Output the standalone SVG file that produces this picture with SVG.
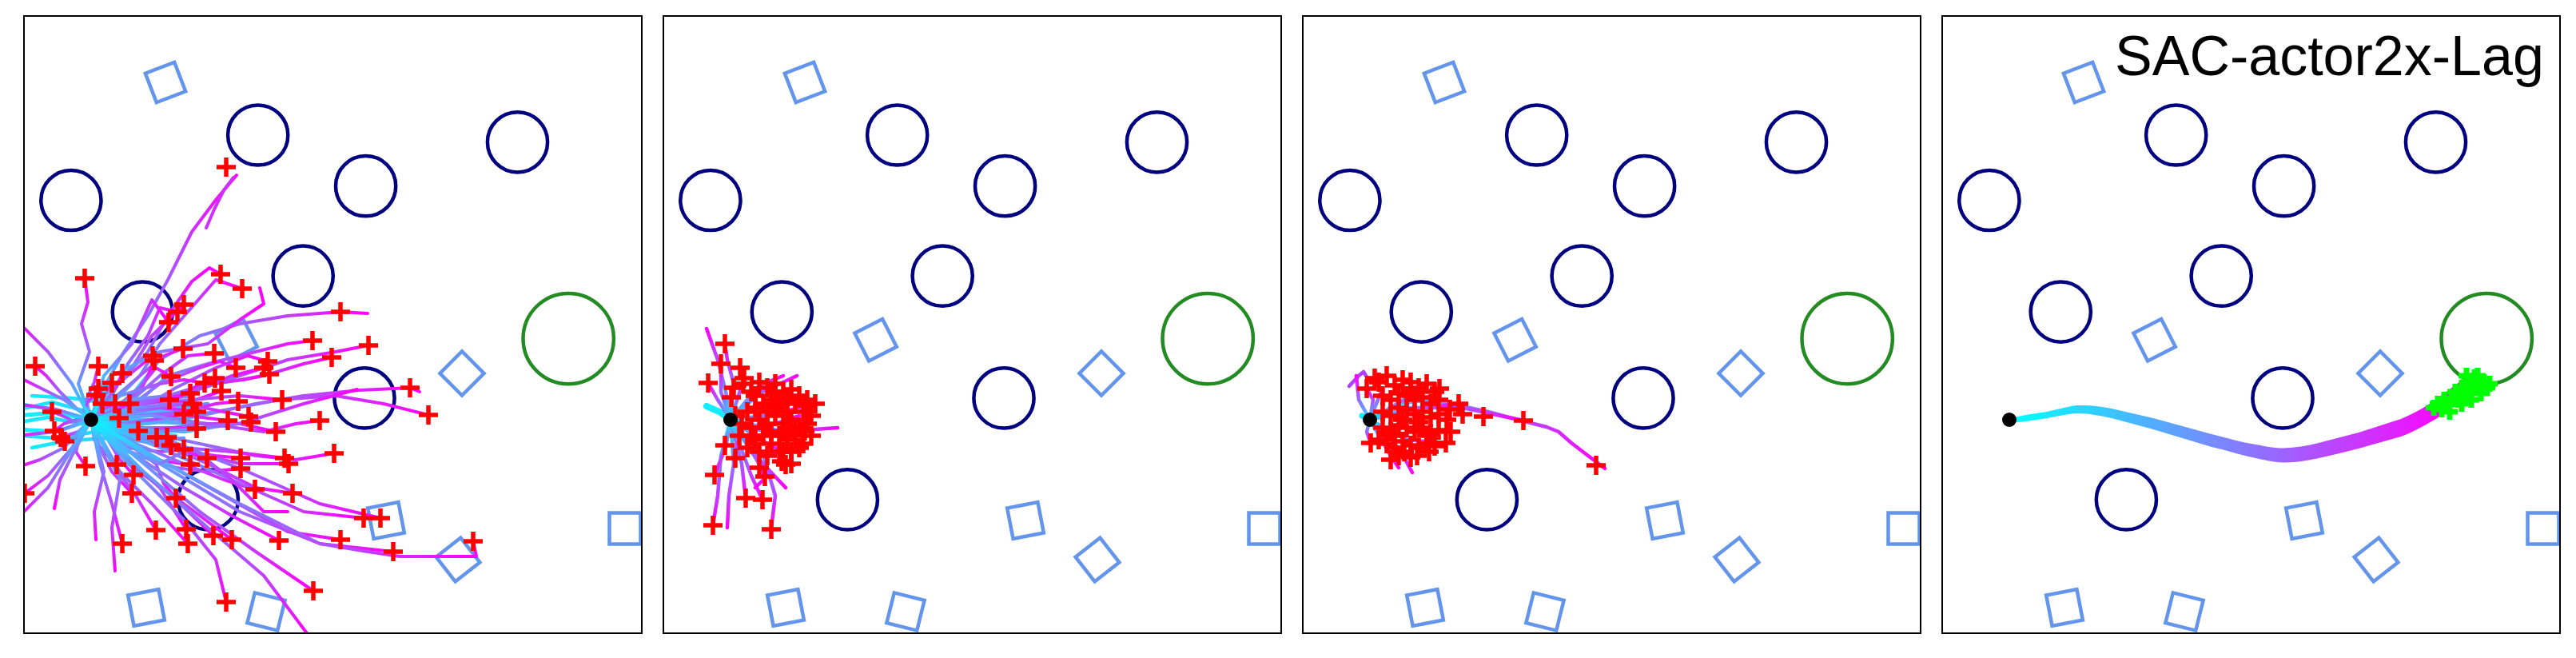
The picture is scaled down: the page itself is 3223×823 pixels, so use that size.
<svg xmlns="http://www.w3.org/2000/svg" width="3223" height="823" viewBox="0 0 3223 823">
<style>
.frame{fill:none;stroke:#000;stroke-width:2}
.o{fill:none;stroke:#000080;stroke-width:4.5}
.g{fill:none;stroke:#228B22;stroke-width:4.5}
.q{fill:none;stroke:#6495ED;stroke-width:4.5}
.t{fill:none;stroke-width:4;stroke-linecap:round;stroke-linejoin:round}
.t4{fill:none;stroke-width:4.5;stroke-linecap:round;stroke-linejoin:round}
.r{stroke:url(#gR)}
.l{stroke:url(#gL)}
.u{stroke:url(#gU)}
.d{stroke:url(#gD)}
.cy{fill:none;stroke:#14ecff;stroke-width:5;stroke-linecap:round;stroke-linejoin:round}
.cb{fill:none;stroke:url(#gC);stroke-width:4.5;stroke-linecap:round;stroke-linejoin:round}
.title{font-family:"Liberation Sans",Arial,sans-serif;font-size:70px;fill:#000}
</style>
<defs>
<clipPath id="cp"><rect x="30" y="20" width="773" height="772"/></clipPath>
<linearGradient id="gR" x1="0" y1="0" x2="1" y2="0"><stop offset="0" stop-color="#00ffff"/><stop offset="0.12" stop-color="#40c0ff"/><stop offset="0.35" stop-color="#8080ff"/><stop offset="0.7" stop-color="#c040ff"/><stop offset="1" stop-color="#ff00ff"/></linearGradient>
<linearGradient id="gL" x1="1" y1="0" x2="0" y2="0"><stop offset="0" stop-color="#00ffff"/><stop offset="0.12" stop-color="#40c0ff"/><stop offset="0.35" stop-color="#8080ff"/><stop offset="0.7" stop-color="#c040ff"/><stop offset="1" stop-color="#ff00ff"/></linearGradient>
<linearGradient id="gU" x1="0" y1="1" x2="0" y2="0"><stop offset="0" stop-color="#00ffff"/><stop offset="0.12" stop-color="#40c0ff"/><stop offset="0.35" stop-color="#8080ff"/><stop offset="0.7" stop-color="#c040ff"/><stop offset="1" stop-color="#ff00ff"/></linearGradient>
<linearGradient id="gD" x1="0" y1="0" x2="0" y2="1"><stop offset="0" stop-color="#00ffff"/><stop offset="0.12" stop-color="#40c0ff"/><stop offset="0.35" stop-color="#8080ff"/><stop offset="0.7" stop-color="#c040ff"/><stop offset="1" stop-color="#ff00ff"/></linearGradient>
<linearGradient id="gC" x1="0" y1="0" x2="1" y2="0"><stop offset="0" stop-color="#14ecff"/><stop offset="0.6" stop-color="#30d0ff"/><stop offset="1" stop-color="#7090ff"/></linearGradient>
<linearGradient id="gRib" gradientUnits="userSpaceOnUse" x1="114" y1="0" x2="670" y2="0"><stop offset="0" stop-color="#00ffff"/><stop offset="0.5" stop-color="#8080ff"/><stop offset="1" stop-color="#ff00ff"/></linearGradient>
<rect id="sq" x="-19.5" y="-19.5" width="39" height="39"/>
<path id="p" d="M-12 0H12M0-12V12" stroke="#ff0000" stroke-width="5.5" fill="none"/>
<path id="pg" d="M-10 0H10M0-10V10" stroke="#00ff00" stroke-width="7" fill="none"/>
<g id="env">
<circle class="o" cx="322.7" cy="169" r="37.6"/>
<circle class="o" cx="647.5" cy="177.8" r="37.6"/>
<circle class="o" cx="88.9" cy="250.5" r="37.6"/>
<circle class="o" cx="457.6" cy="232.7" r="37.6"/>
<circle class="o" cx="379.2" cy="345.2" r="37.6"/>
<circle class="o" cx="178.3" cy="390.1" r="37.6"/>
<circle class="o" cx="456" cy="497.9" r="37.6"/>
<circle class="o" cx="260.4" cy="624.9" r="37.6"/>
<circle class="g" cx="711.2" cy="423.6" r="56.7"/>
<use href="#sq" class="q" transform="translate(207 103) rotate(-21)"/>
<use href="#sq" class="q" transform="translate(295.6 425.3) rotate(-27)"/>
<use href="#sq" class="q" transform="translate(578 467) rotate(45)"/>
<use href="#sq" class="q" transform="translate(483 651) rotate(-11)"/>
<use href="#sq" class="q" transform="translate(573 700) rotate(-38)"/>
<use href="#sq" class="q" transform="translate(782 661)"/>
<use href="#sq" class="q" transform="translate(183 760) rotate(-11)"/>
<use href="#sq" class="q" transform="translate(333 765) rotate(14)"/>
</g>
</defs>

<!-- Panel 1 -->
<g id="panel1">
<g clip-path="url(#cp)">
<use href="#env"/>
<g id="traj1" class="t">
<path class="cy" d="M20 520 L70 516 L114 525 L170 528 L240 522"/>
<path class="cy" d="M20 537 L70 540 L114 525 L180 516 L250 512"/>
<path class="cy" d="M20 505 L60 511 L114 525 L160 538 L220 545"/>
<path class="cb" d="M25 528 L60 522 L100 530 L150 533 L200 528 L250 530"/>
<path class="cb" d="M25 545 L70 548 L120 540 L170 535 L230 540 L280 532"/>
<path class="cb" d="M25 512 L65 503 L110 515 L160 520 L210 512 L260 505"/>
<path class="cb" d="M40 560 L80 552 L130 548 L180 552 L230 548"/>
<path class="cb" d="M40 495 L90 498 L140 505 L190 498 L235 496"/>
<path class="u" d="M114 525 L128 488 L155 440 L185 395 L210 350 L240 290 L270 250 L296 219"/>
<path d="M258 285 L268 262 L280 238 L292 222" style="stroke:#d030ff"/>
<path class="u" d="M114 525 L98 480 L112 440 L102 405 L110 378 L106 348"/>
<path class="u" d="M114 525 L150 478 L185 440 L210 395 L240 352 L262 335 L276 343"/>
<path class="r" d="M114 525 L145 500 L175 470 L200 430 L235 390 L270 350 L303 361"/>
<path class="r" d="M114 525 L135 490 L165 460 L190 420 L230 381"/>
<path class="r" d="M114 525 L140 495 L160 455 L185 420 L200 385 L222 390"/>
<path class="r" d="M114 525 L130 470 L165 430 L190 375 L211 403"/>
<path class="r" d="M114 525 L160 500 L200 450 L250 420 L300 405 L360 395 L426 390 L460 392"/>
<path class="r" d="M114 525 L170 505 L210 470 L260 455 L320 440 L360 430 L391 426"/>
<path class="r" d="M114 525 L180 515 L240 490 L300 470 L360 450 L420 440 L461 432"/>
<path class="r" d="M114 525 L170 500 L220 495 L270 480 L330 470 L380 455 L415 447"/>
<path class="r" d="M114 525 L140 500 L175 470 L205 445 L229 436"/>
<path class="r" d="M114 525 L130 495 L160 470 L191 445"/>
<path class="r" d="M114 525 L150 510 L175 490 L185 470 L193 451"/>
<path class="r" d="M114 525 L160 505 L200 470 L235 445 L268 442"/>
<path class="l" d="M114 525 L95 510 L75 490 L58 470 L44 458"/>
<path class="u" d="M114 525 L108 500 L118 478 L123 458"/>
<path class="u" d="M114 525 L130 505 L145 485 L153 467"/>
<path class="r" d="M114 525 L125 505 L132 490 L140 479"/>
<path class="r" d="M114 525 L150 505 L175 485 L195 460 L214 471"/>
<path class="r" d="M114 525 L160 510 L200 480 L250 460 L275 452 L295 460"/>
<path class="r" d="M114 525 L170 515 L220 485 L270 460 L310 445 L335 452"/>
<path class="r" d="M114 525 L180 505 L240 490 L290 470 L330 460"/>
<path class="r" d="M114 525 L160 500 L210 495 L260 480 L305 475 L337 468"/>
<path class="r" d="M114 525 L150 495 L200 480 L230 475 L256 479"/>
<path class="r" d="M114 525 L170 505 L220 500 L250 480 L269 473"/>
<path class="u" d="M114 525 L125 510 L130 495 L123 486"/>
<path class="u" d="M114 525 L105 512 L112 500 L120 494"/>
<path class="r" d="M114 525 L150 505 L200 500 L238 492"/>
<path class="r" d="M114 525 L170 515 L230 505 L260 495 L277 489"/>
<path class="r" d="M114 525 L180 530 L250 520 L320 505 L380 495 L450 488 L513 485 L525 490"/>
<path class="r" d="M114 525 L190 525 L270 515 L350 500 L420 495 L480 505 L536 519"/>
<path class="r" d="M114 525 L180 505 L240 500 L300 495 L353 500"/>
<path class="r" d="M114 525 L170 520 L230 515 L270 505 L298 502"/>
<path class="r" d="M114 525 L145 510 L180 505 L212 500"/>
<path class="r" d="M114 525 L160 510 L200 500 L241 505"/>
<path class="r" d="M114 525 L118 512 L128 505"/>
<path class="r" d="M114 525 L128 512 L144 505"/>
<path class="r" d="M114 525 L138 515 L162 505"/>
<path class="l" d="M114 525 L95 528 L78 520 L65 515"/>
<path class="r" d="M114 525 L150 530 L190 525 L230 518"/>
<path class="r" d="M114 525 L160 512 L200 510 L246 515"/>
<path class="r" d="M114 525 L130 518 L149 523"/>
<path class="r" d="M114 525 L170 510 L230 505 L280 515 L311 521"/>
<path class="r" d="M114 525 L180 535 L250 535 L314 528"/>
<path class="r" d="M114 525 L160 520 L220 518 L285 526"/>
<path class="r" d="M114 525 L190 520 L260 530 L330 540 L370 530 L400 526"/>
<path class="r" d="M114 525 L135 540 L173 539"/>
<path class="l" d="M114 525 L95 525 L80 530 L68 539"/>
<path class="l" d="M114 525 L98 540 L76 547"/>
<path class="l" d="M114 525 L102 545 L81 552"/>
<path class="r" d="M114 525 L180 540 L250 530 L300 530 L345 540"/>
<path class="r" d="M114 525 L170 540 L210 535 L246 536"/>
<path class="r" d="M114 525 L150 530 L180 540 L209 547"/>
<path class="r" d="M114 525 L140 545 L170 550 L196 547"/>
<path class="r" d="M114 525 L150 545 L185 552 L214 557"/>
<path class="r" d="M114 525 L160 560 L200 565 L230 562"/>
<path class="r" d="M114 525 L180 540 L250 555 L320 570 L370 575 L418 567"/>
<path class="r" d="M114 525 L170 550 L230 560 L290 565 L356 573"/>
<path class="r" d="M114 525 L180 545 L240 565 L300 580 L361 580"/>
<path class="r" d="M114 525 L170 550 L230 565 L270 570 L301 573"/>
<path class="r" d="M114 525 L160 565 L220 585 L260 590 L301 586"/>
<path class="r" d="M114 525 L160 545 L210 560 L259 573"/>
<path class="r" d="M114 525 L150 560 L190 575 L238 581"/>
<path class="d" d="M114 525 L118 550 L130 565 L146 581"/>
<path class="d" d="M114 525 L100 545 L95 565 L107 583"/>
<path class="d" d="M114 525 L135 550 L150 575 L167 594"/>
<path class="r" d="M114 525 L170 555 L230 580 L280 600 L319 612"/>
<path class="r" d="M114 525 L190 550 L260 580 L320 610 L366 617"/>
<path class="d" d="M114 525 L125 560 L140 590 L165 617"/>
<path class="d" d="M114 525 L160 555 L195 580 L205 605 L220 623"/>
<path class="l" d="M114 525 L90 560 L60 595 L31 617"/>
<path class="r" d="M114 525 L200 560 L290 600 L380 640 L455 648"/>
<path class="r" d="M114 525 L210 550 L310 590 L400 630 L476 648"/>
<path class="r" d="M114 525 L190 570 L280 620 L360 665 L426 675"/>
<path class="r" d="M114 525 L200 580 L300 640 L400 680 L492 690"/>
<path class="r" d="M114 525 L200 575 L300 630 L400 680 L460 690 L500 696 L596 696 L592 677"/>
<path class="d" d="M114 525 L170 570 L230 610 L290 645 L349 676"/>
<path class="d" d="M114 525 L160 580 L210 615 L250 645 L290 675"/>
<path class="d" d="M114 525 L165 580 L215 620 L267 670"/>
<path class="d" d="M114 525 L160 575 L200 610 L233 662"/>
<path class="d" d="M114 525 L150 590 L190 630 L235 680"/>
<path class="d" d="M114 525 L140 580 L170 620 L195 663"/>
<path class="d" d="M114 525 L125 580 L140 630 L153 680"/>
<path class="d" d="M114 525 L180 580 L250 640 L320 690 L392 739"/>
<path class="d" d="M114 525 L170 590 L230 650 L270 700 L283 753"/>
<path class="l" d="M114 525 L90 480 L60 440 L20 400"/>
<path class="l" d="M114 525 L80 500 L50 485 L20 470"/>
<path class="l" d="M114 525 L70 512 L20 505"/>
<path class="l" d="M114 525 L70 540 L20 545"/>
<path class="l" d="M114 525 L80 560 L50 575 L20 585"/>
<path class="l" d="M114 525 L85 570 L60 610 L20 650"/>
<path class="d" d="M114 525 L180 590 L260 660 L330 720 L390 800"/>
<path class="d" d="M114 525 L90 570 L75 600 L68 636"/>
<path class="d" d="M114 525 L130 590 L118 640 L120 675"/>
<path class="d" d="M114 525 L150 600 L140 660 L144 714"/>
<path class="r" d="M114 525 L200 540 L300 530 L380 505 L447 487"/>
<path class="r" d="M114 525 L150 560 L200 580 L240 560 L290 600 L330 640 L360 640"/>
<path class="r" d="M114 525 L140 470 L200 440 L260 430 L300 400 L330 380 L325 360"/>
</g>
<g id="ends1">
<use href="#p" x="283" y="209"/><use href="#p" x="106" y="348"/><use href="#p" x="276" y="343"/><use href="#p" x="303" y="361"/>
<use href="#p" x="230" y="381"/><use href="#p" x="222" y="390"/><use href="#p" x="211" y="403"/><use href="#p" x="426" y="390"/>
<use href="#p" x="391" y="426"/><use href="#p" x="461" y="432"/><use href="#p" x="415" y="447"/><use href="#p" x="229" y="436"/>
<use href="#p" x="191" y="445"/><use href="#p" x="193" y="451"/><use href="#p" x="268" y="442"/><use href="#p" x="44" y="458"/>
<use href="#p" x="123" y="458"/><use href="#p" x="153" y="467"/><use href="#p" x="140" y="479"/><use href="#p" x="214" y="471"/>
<use href="#p" x="295" y="460"/><use href="#p" x="335" y="452"/><use href="#p" x="330" y="460"/><use href="#p" x="337" y="468"/>
<use href="#p" x="256" y="479"/><use href="#p" x="269" y="473"/><use href="#p" x="123" y="486"/><use href="#p" x="120" y="494"/>
<use href="#p" x="238" y="492"/><use href="#p" x="277" y="489"/><use href="#p" x="513" y="485"/><use href="#p" x="536" y="519"/>
<use href="#p" x="353" y="500"/><use href="#p" x="298" y="502"/><use href="#p" x="212" y="500"/><use href="#p" x="241" y="505"/>
<use href="#p" x="128" y="505"/><use href="#p" x="144" y="505"/><use href="#p" x="162" y="505"/><use href="#p" x="65" y="515"/>
<use href="#p" x="230" y="518"/><use href="#p" x="246" y="515"/><use href="#p" x="149" y="523"/><use href="#p" x="311" y="521"/>
<use href="#p" x="314" y="528"/><use href="#p" x="285" y="526"/><use href="#p" x="400" y="526"/><use href="#p" x="173" y="539"/>
<use href="#p" x="68" y="539"/><use href="#p" x="76" y="547"/><use href="#p" x="81" y="552"/><use href="#p" x="345" y="540"/>
<use href="#p" x="246" y="536"/><use href="#p" x="209" y="547"/><use href="#p" x="196" y="547"/><use href="#p" x="214" y="557"/>
<use href="#p" x="230" y="562"/><use href="#p" x="418" y="567"/><use href="#p" x="356" y="573"/><use href="#p" x="361" y="580"/>
<use href="#p" x="301" y="573"/><use href="#p" x="301" y="586"/><use href="#p" x="259" y="573"/><use href="#p" x="238" y="581"/>
<use href="#p" x="146" y="581"/><use href="#p" x="107" y="583"/><use href="#p" x="167" y="594"/><use href="#p" x="319" y="612"/>
<use href="#p" x="366" y="617"/><use href="#p" x="165" y="617"/><use href="#p" x="220" y="623"/><use href="#p" x="31" y="617"/>
<use href="#p" x="455" y="648"/><use href="#p" x="476" y="648"/><use href="#p" x="426" y="675"/><use href="#p" x="492" y="690"/>
<use href="#p" x="592" y="677"/><use href="#p" x="349" y="676"/><use href="#p" x="290" y="675"/><use href="#p" x="267" y="670"/>
<use href="#p" x="233" y="662"/><use href="#p" x="235" y="680"/><use href="#p" x="195" y="663"/><use href="#p" x="153" y="680"/>
<use href="#p" x="392" y="739"/><use href="#p" x="283" y="753"/>
</g>
<circle cx="114" cy="525" r="9" fill="#000"/>
</g>
<rect class="frame" x="30" y="20" width="773" height="772"/>
</g>

<!-- Panel 2 -->
<g id="panel2" transform="translate(800 0)">
<g clip-path="url(#cp)">
<use href="#env"/>
<g id="traj2" class="t4">
<path class="cy" d="M84 508 L100 515 L114 525 L125 520" style="stroke-width:8"/>
<path class="u" d="M114 525 L108 490 L98 450 L84 411"/>
<path class="u" d="M114 525 L118 480 L110 450 L107 430"/>
<path class="u" d="M114 525 L102 490 L102 455"/>
<path class="l" d="M114 525 L98 500 L86 479"/>
<path class="u" d="M114 525 L124 495 L131 473"/>
<path class="r" d="M114 525 L150 492 L197 470"/>
<path class="r" d="M114 525 L180 540 L248 535"/>
<path class="d" d="M114 525 L118 580 L112 620 L110 660"/>
<path class="d" d="M114 525 L102 570 L98 620 L92 657"/>
<path class="d" d="M114 525 L128 580 L133 623"/>
<path class="d" d="M114 525 L155 570 L170 620 L165 660"/>
<path class="d" d="M114 525 L150 575 L183 610"/>
<path class="d" d="M114 525 L140 560 L157 596"/>
<path class="d" d="M114 525 L108 560 L94 594"/>
<path class="d" d="M114 525 L122 555 L120 573"/>
<path class="r" d="M114 525 L170 518 L209 507"/>
<path class="r" d="M114 525 L170 545 L207 539"/>
<path class="r" d="M114 525 L160 555 L180 565"/>
<path class="d" d="M114 525 L140 595 L154 625"/>
<path class="r" d="M114 525 L150 482 L180 470"/>
<path class="r" d="M114 525 L140 540 L200 520"/>
<path class="d" d="M114 525 L160 595 L145 610"/>
</g>
<g id="ends2">
<use href="#p" x="107" y="430"/><use href="#p" x="102" y="455"/><use href="#p" x="86" y="479"/><use href="#p" x="126" y="460"/>
<use href="#p" x="131" y="473"/><use href="#p" x="115" y="497"/><use href="#p" x="107" y="557"/><use href="#p" x="120" y="573"/>
<use href="#p" x="94" y="594"/><use href="#p" x="157" y="596"/><use href="#p" x="133" y="623"/><use href="#p" x="154" y="625"/>
<use href="#p" x="92" y="657"/><use href="#p" x="165" y="662"/><use href="#p" x="183" y="581"/><use href="#p" x="180" y="565"/>
<use href="#p" x="207" y="539"/><use href="#p" x="209" y="507"/>
<use href="#p" x="130" y="480"/><use href="#p" x="140" y="490"/><use href="#p" x="150" y="478"/><use href="#p" x="160" y="485"/>
<use href="#p" x="170" y="480"/><use href="#p" x="180" y="490"/><use href="#p" x="190" y="487"/><use href="#p" x="200" y="495"/>
<use href="#p" x="210" y="500"/><use href="#p" x="205" y="515"/><use href="#p" x="195" y="505"/><use href="#p" x="185" y="515"/>
<use href="#p" x="175" y="505"/><use href="#p" x="165" y="500"/><use href="#p" x="155" y="505"/><use href="#p" x="145" y="510"/>
<use href="#p" x="135" y="515"/><use href="#p" x="128" y="530"/><use href="#p" x="140" y="535"/><use href="#p" x="150" y="525"/>
<use href="#p" x="160" y="530"/><use href="#p" x="170" y="520"/><use href="#p" x="180" y="530"/><use href="#p" x="190" y="525"/>
<use href="#p" x="200" y="535"/><use href="#p" x="210" y="530"/><use href="#p" x="215" y="545"/><use href="#p" x="205" y="555"/>
<use href="#p" x="195" y="545"/><use href="#p" x="185" y="550"/><use href="#p" x="175" y="545"/><use href="#p" x="165" y="555"/>
<use href="#p" x="155" y="545"/><use href="#p" x="145" y="550"/><use href="#p" x="135" y="560"/><use href="#p" x="150" y="565"/>
<use href="#p" x="160" y="570"/><use href="#p" x="175" y="565"/><use href="#p" x="190" y="565"/><use href="#p" x="200" y="560"/>
<use href="#p" x="170" y="490"/><use href="#p" x="185" y="500"/><use href="#p" x="160" y="515"/><use href="#p" x="140" y="545"/>
<use href="#p" x="125" y="545"/><use href="#p" x="215" y="520"/><use href="#p" x="220" y="505"/><use href="#p" x="178" y="577"/>
<use href="#p" x="150" y="585"/><use href="#p" x="190" y="580"/><use href="#p" x="165" y="540"/><use href="#p" x="180" y="540"/>
<use href="#p" x="195" y="535"/><use href="#p" x="155" y="535"/><use href="#p" x="170" y="510"/><use href="#p" x="145" y="495"/>
<use href="#p" x="120" y="520"/><use href="#p" x="118" y="485"/>
</g>
<circle cx="114" cy="525" r="9" fill="#000"/>
</g>
<rect class="frame" x="30" y="20" width="773" height="772"/>
</g>

<!-- Panel 3 -->
<g id="panel3" transform="translate(1600 0)">
<g clip-path="url(#cp)">
<use href="#env"/>
<g id="traj3" class="t4">
<path class="cy" d="M104 520 L114 525 L122 522" style="stroke-width:7"/>
<path class="r" d="M114 525 L150 505 L190 500 L225 507 L262 515 L303 526 L335 534 L350 540 L366 554 L408 586"/>
<path class="r" d="M114 525 L160 510 L230 510 L306 526"/>
<path d="M88 483 L100 470 L106 465 L112 475" style="stroke:#b040ff"/>
<path class="u" d="M114 525 L100 500 L97 470"/>
<path class="d" d="M114 525 L150 560 L167 591"/>
<path class="d" d="M114 525 L140 570 L150 585"/>
<path class="u" d="M114 525 L128 490 L120 473"/>
<path class="r" d="M114 525 L170 492 L201 486"/>
<path class="r" d="M114 525 L180 510 L225 505"/>
<path class="r" d="M114 525 L160 550 L209 554"/>
<path class="r" d="M114 525 L140 560 L157 565"/>
<path class="u" d="M114 525 L118 500 L110 486"/>
<path class="d" d="M114 525 L110 540 L115 554"/>
</g>
<g id="ends3">
<use href="#p" x="120" y="473"/><use href="#p" x="110" y="486"/><use href="#p" x="201" y="486"/><use href="#p" x="225" y="505"/>
<use href="#p" x="256" y="521"/><use href="#p" x="306" y="526"/><use href="#p" x="397" y="582"/><use href="#p" x="115" y="554"/>
<use href="#p" x="209" y="554"/><use href="#p" x="173" y="570"/><use href="#p" x="157" y="565"/><use href="#p" x="188" y="565"/>
<use href="#p" x="214" y="512"/><use href="#p" x="230" y="518"/>
<use href="#p" x="125" y="478"/><use href="#p" x="135" y="470"/><use href="#p" x="145" y="482"/><use href="#p" x="155" y="475"/>
<use href="#p" x="165" y="478"/><use href="#p" x="175" y="485"/><use href="#p" x="185" y="480"/><use href="#p" x="195" y="490"/>
<use href="#p" x="130" y="495"/><use href="#p" x="140" y="500"/><use href="#p" x="150" y="492"/><use href="#p" x="160" y="495"/>
<use href="#p" x="170" y="500"/><use href="#p" x="180" y="497"/><use href="#p" x="190" y="505"/><use href="#p" x="200" y="500"/>
<use href="#p" x="130" y="515"/><use href="#p" x="140" y="520"/><use href="#p" x="150" y="510"/><use href="#p" x="160" y="512"/>
<use href="#p" x="170" y="518"/><use href="#p" x="180" y="515"/><use href="#p" x="190" y="522"/><use href="#p" x="200" y="518"/>
<use href="#p" x="210" y="525"/><use href="#p" x="130" y="535"/><use href="#p" x="140" y="540"/><use href="#p" x="150" y="532"/>
<use href="#p" x="160" y="535"/><use href="#p" x="170" y="540"/><use href="#p" x="180" y="535"/><use href="#p" x="190" y="542"/>
<use href="#p" x="200" y="538"/><use href="#p" x="135" y="555"/><use href="#p" x="145" y="560"/><use href="#p" x="155" y="552"/>
<use href="#p" x="165" y="557"/><use href="#p" x="175" y="560"/><use href="#p" x="185" y="555"/><use href="#p" x="195" y="558"/>
<use href="#p" x="150" y="570"/><use href="#p" x="165" y="572"/><use href="#p" x="140" y="575"/><use href="#p" x="125" y="550"/>
<use href="#p" x="215" y="540"/><use href="#p" x="155" y="525"/><use href="#p" x="175" y="528"/><use href="#p" x="165" y="488"/>
<use href="#p" x="185" y="545"/><use href="#p" x="145" y="545"/>
</g>
<circle cx="114" cy="525" r="9" fill="#000"/>
</g>
<rect class="frame" x="30" y="20" width="773" height="772"/>
</g>

<!-- Panel 4 -->
<g id="panel4" transform="translate(2400 0)">
<g clip-path="url(#cp)">
<use href="#env"/>
<path id="ribbon" fill="url(#gRib)" d="M114 523 C135 519 148 516.5 157 515.7 C175 512 190 507.5 200 507 C218 506.5 232 509 242 511 L294 523 L367 543 C390 549 405 553 420 555.5 C435 558.5 447 560.6 457 560.6 C472 560 486 557.5 499 554.5 L551 541 L604 524 C620 517 635 509 646 501 L677 478 L679 502 C668 510 656 519 646 525 C630 534 618 541 604 546 L551 561 C532 566 515 570 499 573.5 C485 576.5 470 578.6 457 578.6 C443 578 432 575 420 572.5 C400 568 385 563 367 559 L294 537 L242 523 C228 520 212 517 200 517 C185 517.5 168 522 157 523.7 C142 526 128 528 114 529 Z"/>
<g id="ends4">
<use href="#pg" x="645" y="510"/><use href="#pg" x="650" y="505"/><use href="#pg" x="655" y="512"/><use href="#pg" x="658" y="500"/>
<use href="#pg" x="663" y="506"/><use href="#pg" x="668" y="498"/><use href="#pg" x="672" y="490"/><use href="#pg" x="676" y="500"/>
<use href="#pg" x="680" y="485"/><use href="#pg" x="684" y="495"/><use href="#pg" x="688" y="478"/><use href="#pg" x="692" y="488"/>
<use href="#pg" x="696" y="472"/><use href="#pg" x="700" y="482"/><use href="#pg" x="704" y="492"/><use href="#pg" x="708" y="478"/>
<use href="#pg" x="712" y="485"/><use href="#pg" x="692" y="500"/><use href="#pg" x="680" y="505"/><use href="#pg" x="665" y="515"/>
<use href="#pg" x="700" y="470"/><use href="#pg" x="715" y="480"/><use href="#pg" x="686" y="470"/>
</g>
<circle cx="114" cy="525" r="9" fill="#000"/>
</g>
<rect class="frame" x="30" y="20" width="773" height="772"/>
<text class="title" x="246" y="94">SAC-actor2x-Lag</text>
</g>
</svg>
